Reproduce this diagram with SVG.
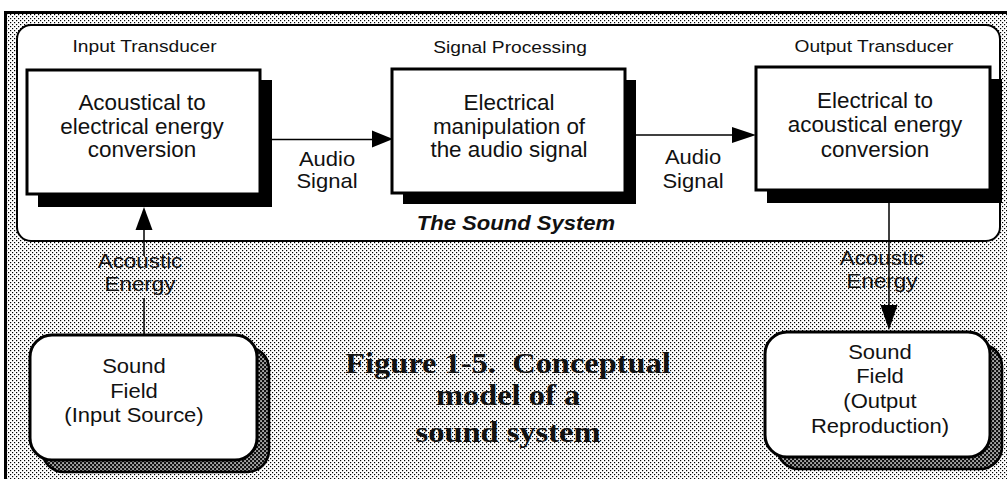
<svg xmlns="http://www.w3.org/2000/svg" width="1007" height="479" viewBox="0 0 1007 479">
<style>
.t{font-family:"Liberation Sans",Arial,sans-serif;fill:#111;text-anchor:middle}
.lbl{font-size:17px}
.box{font-size:22px}
.sig{font-size:20px}
.ae{font-size:20px}
.sf{font-size:20px}
.sys{font-size:21px;font-weight:bold;font-style:italic}
.cap{font-family:"Liberation Serif","Times New Roman",serif;font-size:29px;font-weight:bold;fill:#111;text-anchor:middle}
.node{fill:#fff;stroke:#000;stroke-width:3}
.shadow{fill:#000}
.rshadow{fill:url(#dk);stroke:#000;stroke-width:2.5}
.conn{stroke:#000;stroke-width:1.5;fill:none}
.head{fill:#000}
</style>
<defs>
<pattern id="bg" width="4" height="4" patternUnits="userSpaceOnUse">
<rect width="4" height="4" fill="#fff"/>
<rect x="0" y="0" width="1.2" height="1.2" fill="#000"/>
<rect x="2" y="2" width="1.2" height="1.2" fill="#000"/>
</pattern>
<pattern id="dk" width="4" height="4" patternUnits="userSpaceOnUse">
<rect width="4" height="4" fill="#111"/>
<rect x="0.3" y="0.3" width="1.5" height="1.5" fill="#fff"/>
<rect x="2.3" y="2.3" width="1.5" height="1.5" fill="#fff"/>
</pattern>
</defs>

<rect x="0" y="0" width="1007" height="479" fill="#fff"/>
<rect x="4" y="11" width="1003" height="468" fill="url(#bg)"/>
<line x1="4" y1="12.5" x2="1007" y2="12.5" stroke="#000" stroke-width="3"/>
<line x1="5.5" y1="11" x2="5.5" y2="479" stroke="#000" stroke-width="3"/>

<g id="sound-system">
<rect x="17" y="25" width="983" height="216" rx="14" fill="#fff" stroke="#000" stroke-width="2"/>
<text class="t sys" transform="translate(516 0) scale(1.05 1)"><tspan x="0" y="230">The Sound System</tspan></text>
</g>

<g id="input-transducer">
<text class="t lbl" transform="translate(144.5 0) scale(1.13 1)"><tspan x="0" y="52">Input Transducer</tspan></text>
<rect class="shadow" x="38" y="80" width="234" height="127"/>
<rect class="node" x="27" y="70" width="233" height="124"/>
<text class="t box" transform="translate(142 0) scale(1.02 1)"><tspan x="0" y="110">Acoustical to</tspan><tspan x="0" y="134">electrical energy</tspan><tspan x="0" y="157">conversion</tspan></text>
</g>

<g id="signal-processing">
<text class="t lbl" transform="translate(510 0) scale(1.13 1)"><tspan x="0" y="53">Signal Processing</tspan></text>
<rect class="shadow" x="403" y="80" width="233" height="124"/>
<rect class="node" x="392" y="69" width="233" height="124"/>
<text class="t box" transform="translate(509 0) scale(1.02 1)"><tspan x="0" y="110">Electrical</tspan><tspan x="0" y="134">manipulation of</tspan><tspan x="0" y="157">the audio signal</tspan></text>
</g>

<g id="output-transducer">
<text class="t lbl" transform="translate(874 0) scale(1.13 1)"><tspan x="0" y="52">Output Transducer</tspan></text>
<rect class="shadow" x="767" y="79" width="235" height="124"/>
<rect class="node" x="756" y="67" width="234" height="123"/>
<text class="t box" transform="translate(875 0) scale(1.02 1)"><tspan x="0" y="108">Electrical to</tspan><tspan x="0" y="132">acoustical energy</tspan><tspan x="0" y="157">conversion</tspan></text>
</g>

<g id="connectors">
<line class="conn" x1="272" y1="139.5" x2="375" y2="139.5"/>
<polygon class="head" points="393,139 372,130.5 372,147.5"/>
<text class="t sig" transform="translate(327 0) scale(1.1 1)"><tspan x="0" y="166">Audio</tspan><tspan x="0" y="188">Signal</tspan></text>

<line class="conn" x1="636" y1="135" x2="735" y2="135"/>
<polygon class="head" points="756,135 732,127 732,143"/>
<text class="t sig" transform="translate(693 0) scale(1.1 1)"><tspan x="0" y="164">Audio</tspan><tspan x="0" y="188">Signal</tspan></text>

<line class="conn" x1="144" y1="228" x2="144" y2="256"/>
<line class="conn" x1="144" y1="298" x2="144" y2="336"/>
<polygon class="head" points="144,207 135.5,230 152.5,230"/>
<text class="t ae" transform="translate(140 0) scale(1.12 1)"><tspan x="0" y="268">Acoustic</tspan><tspan x="0" y="291">Energy</tspan></text>

<line class="conn" x1="889" y1="190" x2="889" y2="308"/>
<polygon class="head" points="889,330 880.5,305 897.5,305"/>
<text class="t ae" transform="translate(882 0) scale(1.12 1)"><tspan x="0" y="265">Acoustic</tspan><tspan x="0" y="288">Energy</tspan></text>
</g>

<g id="input-sound-field">
<rect class="rshadow" x="42" y="347" width="227" height="125" rx="22"/>
<rect class="node" x="30" y="335" width="227" height="125" rx="22"/>
<text class="t sf" transform="translate(134 0) scale(1.1 1)"><tspan x="0" y="373">Sound</tspan><tspan x="0" y="398">Field</tspan><tspan x="0" y="422">(Input Source)</tspan></text>
</g>

<g id="output-sound-field">
<rect class="rshadow" x="777" y="344" width="225" height="125" rx="22"/>
<rect class="node" x="765" y="332" width="225" height="125" rx="22"/>
<text class="t sf" transform="translate(880 0) scale(1.1 1)"><tspan x="0" y="359">Sound</tspan><tspan x="0" y="383">Field</tspan><tspan x="0" y="408">(Output</tspan><tspan x="0" y="433">Reproduction)</tspan></text>
</g>

<g id="caption">
<text class="cap" transform="translate(508 0) scale(1.12 1)"><tspan x="0" y="373">Figure 1-5.&#160; Conceptual</tspan><tspan x="0" y="405">model of a</tspan><tspan x="0" y="442">sound system</tspan></text>
</g>
</svg>
